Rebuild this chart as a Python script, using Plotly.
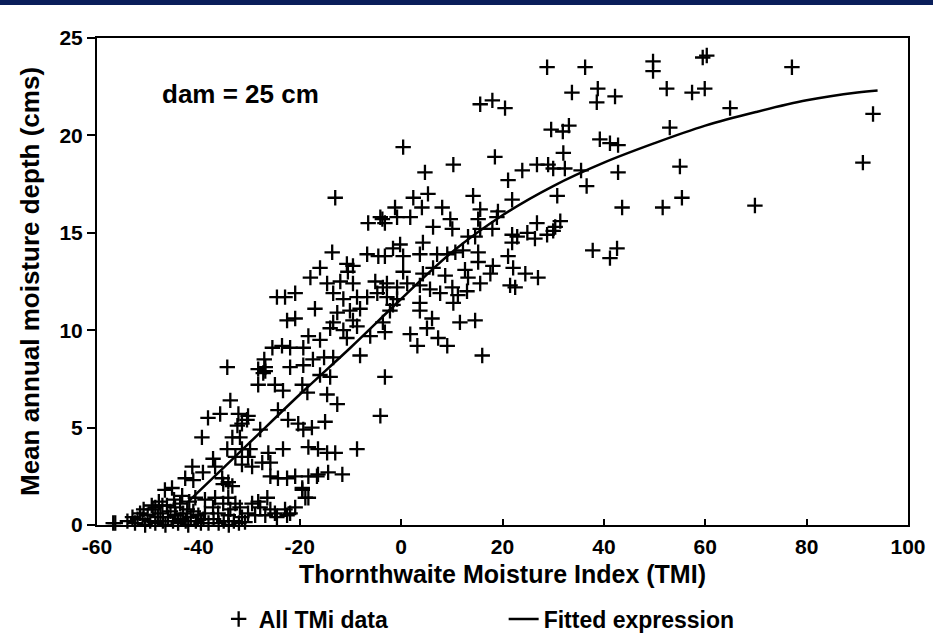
import plotly.graph_objects as go

# ---- data ----
tmi_upper = [28.8, 36.3, 49.7, 49.7, 59.5, 60.3, 77.1,
             33.7, 38.8, 38.6, 42.2, 52.4, 57.4, 59.9, 64.9,
             33.1, 29.6, 31.9, 53.0, 39.2, 41.2, 42.8,
             32.0, 32.3, 35.5, 42.8, 55.0, 36.6, 43.6, 51.6, 55.4,
             37.8, 42.6, 41.2, 93.1, 91.1, 69.8]
depth_upper = [23.5, 23.5, 23.8, 23.3, 24.0, 24.1, 23.5,
               22.2, 22.4, 21.7, 22.0, 22.4, 22.2, 22.4, 21.4,
               20.5, 20.3, 20.2, 20.4, 19.8, 19.6, 19.5,
               19.1, 18.3, 18.2, 18.1, 18.4, 17.4, 16.3, 16.3, 16.8,
               14.1, 14.2, 13.7, 21.1, 18.6, 16.4]

tmi_mid = [0.4, 4.7, 10.3, 18.5, 23.9, 21.1, 26.8, 29.0, 30.0,
           15.6, 18.0, 20.5,
           14.2, 21.9, 30.8, 2.4, 5.3, -1.2, 4.1, 8.1,
           -4.1, -0.8, 1.8, 15.6, 19.1, 6.3, 9.7, 10.1,
           15.2, 15.6, 18.0, 18.9, 14.6, 13.2,
           26.8, 30.4, 31.4, 21.9, 21.9, 22.9, 24.9, 26.4, 28.8, 30.0,
           -0.2, -1.6, -3.2, 0.4, 4.3, 3.7,
           7.1, 9.1, 10.7, 12.2, 15.2, 15.2,
           18.1, 17.6, 21.1, 22.1, 24.5, 27.0, 21.5, 22.5,
           0.4, 4.3, 6.3, 8.7, 12.6, 13.2,
           -2.8, -0.8, 1.2, 3.7,
           5.7, 7.7, 10.1, 13.0, 15.6,
           11.2, 10.3, -2.8, -1.6, 3.7, 3.7, -3.6, -3.2, -2.2,
           6.1, 5.1, 11.6, 14.6, 1.8, 3.2, 7.3, 9.1, 16.0, -3.2, -4.1,
           -0.8, -13.4, -9.5, -8.7, -10.7, -28.2, -13.4, -14.0,
           -13.0, -6.5, -3.7, -3.2]
depth_mid = [19.4, 18.1, 18.5, 18.9, 18.2, 17.7, 18.5, 18.5, 18.3,
             21.6, 21.8, 21.4,
             16.9, 16.7, 16.9, 16.8, 17.0, 16.3, 16.3, 16.3,
             15.8, 15.8, 15.8, 16.2, 16.1, 15.3, 15.7, 15.2,
             15.7, 15.2, 15.2, 15.8, 14.8, 14.8,
             15.5, 15.3, 15.6, 14.9, 14.5, 14.8, 15.0, 14.7, 14.9, 15.1,
             14.4, 14.2, 13.8, 13.8, 14.5, 13.9,
             13.9, 13.9, 14.0, 14.1, 14.0, 13.5,
             13.3, 12.9, 13.8, 13.2, 12.9, 12.7, 12.3, 12.2,
             13.0, 12.9, 13.2, 12.8, 13.1, 12.7,
             12.4, 12.2, 12.4, 12.3,
             12.1, 11.9, 12.2, 12.0, 12.4,
             11.8, 11.4, 11.7, 11.3, 11.4, 11.0, 10.4, 9.9, 11.0,
             10.6, 10.1, 10.4, 10.5, 9.8, 9.2, 9.6, 9.2, 8.7, 7.6, 5.6,
             11.6, 10.4, 10.5, 10.2, 9.6, 8.0, 8.6, 7.6,
             16.8, 15.5, 15.7, 15.5]

tmi_left = [-13.6, -6.7, -4.5, -16.0, -10.7, -9.5, -10.5, -17.9,
            -14.6, -12.0, -9.5, -5.1, -3.6,
            -24.5, -22.9, -20.9, -13.4, -11.4, -8.7, -6.7, -4.7,
            -17.0, -12.6, -10.1, -8.1, -22.5, -20.9, -14.0, -11.4,
            -18.3, -16.0, -25.4, -23.5, -21.9, -19.3, -27.0, -17.4, -15.2,
            -21.9, -19.3, -6.1, -8.1, -26.8, -27.2, -16.0, -34.3,
            -18.5, -14.6, -12.6, -15.0, -14.6, -13.0, -8.7,
            -11.6, -14.4, -16.6, -19.5, -18.3, -21.9]
depth_left = [14.0, 13.9, 13.8, 13.2, 13.4, 13.3, 13.0, 12.7,
              12.4, 12.5, 12.4, 12.5, 12.2,
              11.7, 11.7, 11.9, 11.9, 11.6, 11.7, 11.7, 11.9,
              11.1, 10.9, 11.0, 11.1, 10.5, 10.6, 10.1, 10.0,
              9.7, 9.5, 9.1, 9.2, 9.1, 9.1, 8.5, 8.5, 8.6,
              8.1, 8.2, 9.7, 8.7, 8.1, 7.8, 7.7, 8.1,
              6.8, 6.7, 6.2, 5.3, 3.7, 3.7, 3.9,
              2.6, 2.7, 2.5, 1.9, 1.4, 0.6]

tmi_low = [-26.8, -28.2, -24.9, -23.3, -19.5,
           -33.7, -38.1, -35.7, -32.1, -30.2, -32.3, -31.4, -30.4,
           -39.3, -33.3, -31.8, -24.3, -22.3, -20.3, -19.3, -17.6,
           -18.3, -16.4, -27.8, -34.3, -31.4, -30.2, -32.7, -26.2, -23.3, -37.1,
           -41.2, -39.1, -42.6, -35.3, -34.1, -31.4, -29.4, -27.4,
           -25.8, -24.3, -22.5, -20.9, -18.3, -16.4,
           -35.1, -33.3, -45.2, -46.6, -19.5, -18.9, -26.4, -28.2, -29.4,
           -40.6, -38.7, -36.7, -34.1, -32.7, -48.5, -47.1, -44.6,
           -22.9, -20.9, -24.9, -26.8, -28.8, -38.7, -36.1, -34.1, -31.4,
           -56.8, -30.8, -36.7, -29.8, -25.8, -41.0,
           -43.6, -42.2, -37.1, -35.1, -33.7, -31.8, -30.2, -27.8, -25.8, -24.5, -22.5]
depth_low = [7.9, 7.2, 7.2, 6.9, 7.2,
             6.4, 5.5, 5.7, 5.7, 5.6, 5.1, 5.2, 5.4,
             4.5, 4.5, 4.5, 5.9, 5.4, 5.2, 4.9, 5.0,
             4.0, 3.9, 4.9, 3.9, 3.9, 3.5, 3.5, 3.7, 3.9, 3.4,
             3.0, 2.7, 2.4, 2.4, 2.2, 3.1, 3.0, 3.2,
             2.5, 2.4, 2.4, 2.5, 2.5, 2.6,
             2.1, 2.0, 1.9, 1.8, 1.8, 1.4, 1.4, 1.2, 1.1,
             1.4, 1.3, 1.4, 1.4, 1.1, 0.9, 1.0, 0.9,
             0.8, 0.9, 0.6, 0.5, 0.5, 0.6, 0.6, 0.5, 0.4,
             0.1, 0.15, 3.0, 3.9, 3.2, 2.3,
             1.1, 0.8, 0.9, 1.1, 0.8, 0.9, 0.6, 0.9, 0.8, 0.4, 0.5]

tmi_cluster = [-56.4, -54.0, -53.0, -52.5, -51.5, -51.0, -50.5, -50.0, -49.5, -49.0,
               -48.5, -48.0, -47.5, -47.0, -46.5, -46.0, -45.5, -45.0, -44.5, -44.0,
               -43.5, -43.0, -42.5, -42.0, -41.5, -41.0, -40.5, -40.0, -39.5, -39.0,
               -38.0, -37.0, -36.0, -35.0, -34.0, -33.0, -32.0, -52.0, -50.8, -49.2,
               -47.8, -46.2, -44.8, -43.2, -41.8]
depth_cluster = [0.1, 0.2, 0.4, 0.1, 0.6, 0.3, 0.0, 0.5, 0.2, 0.8,
                 0.1, 0.4, 0.6, 0.2, 0.0, 0.4, 0.7, 0.2, 0.5, 0.1,
                 0.3, 0.6, 0.2, 0.0, 0.4, 0.7, 0.2, 0.5, 0.1, 0.3,
                 0.1, 0.3, 0.1, 0.2, 0.0, 0.2, 0.1, 0.3, 0.8, 1.0,
                 1.2, 1.0, 1.3, 1.5, 1.2]

fit_tmi = [-42, -40, -30, -20, -10, 0, 10, 20, 30, 40, 50, 60, 70, 80, 90, 94]
fit_depth = [1.2, 1.7, 4.2, 6.7, 9.1, 11.6, 14.0, 15.9, 17.4, 18.6, 19.6, 20.5, 21.2, 21.8, 22.2, 22.3]

x_ticks = [-60, -40, -20, 0, 20, 40, 60, 80, 100]
y_ticks = [0, 5, 10, 15, 20, 25]

tmi_all = tmi_upper + tmi_mid + tmi_left + tmi_low + tmi_cluster
depth_all = depth_upper + depth_mid + depth_left + depth_low + depth_cluster

FONT = "Liberation Sans, Arial, Helvetica, sans-serif"

fig = go.Figure()
fig.add_trace(go.Scatter(
    x=tmi_all, y=depth_all, mode="markers", name="All TMi data",
    marker=dict(symbol="cross-thin", size=11, color="black",
                line=dict(color="black", width=2.3)),
    cliponaxis=False,
))
fig.add_trace(go.Scatter(
    x=fit_tmi, y=fit_depth, mode="lines", name="Fitted expression",
    line=dict(color="black", width=2.5, shape="spline"),
))

fig.update_layout(
    width=933, height=644,
    margin=dict(l=97, r=25, t=38, b=119, autoexpand=False),
    paper_bgcolor="white", plot_bgcolor="white",
    font=dict(family=FONT, size=21, color="black", weight="bold"),
    showlegend=True,
    legend=dict(orientation="h", x=0.15, xanchor="left", y=-0.193, yanchor="middle",
                font=dict(family=FONT, size=23, color="black", weight="bold"),
                entrywidth=240, entrywidthmode="pixels",
                bgcolor="rgba(0,0,0,0)"),
    shapes=[dict(type="rect", xref="paper", yref="paper", x0=-0.2, x1=1.2,
                 y0=1.0678, y1=1.1, fillcolor="#0a1e5a", line=dict(width=0),
                 layer="above")],
    annotations=[dict(x=-47.6, y=22.1, xref="x", yref="y", text="dam = 25 cm",
                      showarrow=False, xanchor="left", yanchor="middle",
                      font=dict(family=FONT, size=26, color="black", weight="bold"))],
)

fig.update_xaxes(
    range=[-60, 100], tickvals=x_ticks, ticktext=[str(v) for v in x_ticks],
    showgrid=False, zeroline=False,
    showline=True, linecolor="black", linewidth=2, mirror=True,
    ticks="inside", ticklen=6, tickwidth=2, tickcolor="black",
    ticklabelstandoff=2,
    title=dict(text="Thornthwaite Moisture Index (TMI)", standoff=8,
               font=dict(family=FONT, size=25, color="black", weight="bold")),
    automargin=False,
)
fig.update_yaxes(
    range=[0, 25], tickvals=y_ticks, ticktext=[str(v) for v in y_ticks],
    showgrid=False, zeroline=False,
    showline=True, linecolor="black", linewidth=2, mirror=True,
    ticks="outside", ticklen=8, tickwidth=2, tickcolor="black",
    title=dict(text="Mean annual moisture depth (cms)", standoff=12,
               font=dict(family=FONT, size=26, color="black", weight="bold")),
    automargin=False,
)

fig.write_html("out.html")
